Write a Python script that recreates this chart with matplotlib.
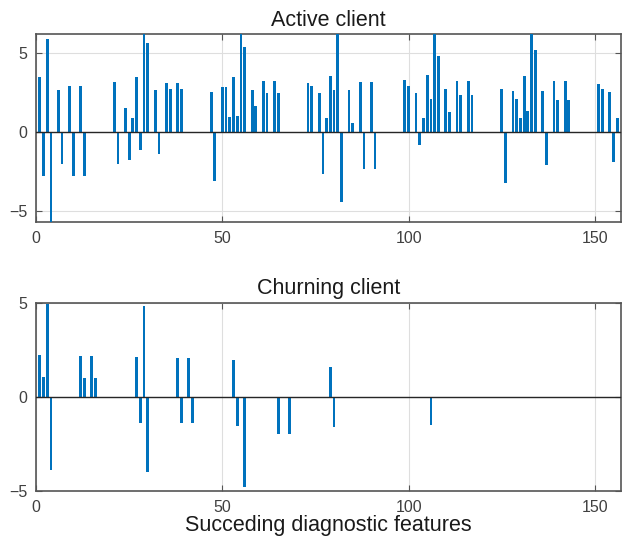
import matplotlib
matplotlib.use("Agg")
import matplotlib.pyplot as plt

plt.rcParams['font.family'] = ['Liberation Sans', 'DejaVu Sans']

# Active client: feature index and value
active_idx = [1, 2, 3, 4, 6, 7, 9, 10, 12, 13,
              21, 22, 24, 25, 26, 27, 28, 29, 30, 32, 33, 35, 36, 38, 39,
              47, 48, 50, 51, 52, 53, 54, 55, 56, 58, 59, 61, 62, 64, 65,
              73, 74, 76, 77, 78, 79, 80, 81, 82, 84, 85, 87, 88, 90, 91,
              99, 100, 102, 103, 104, 105, 106, 107, 108, 110, 111, 113, 114, 116, 117,
              125, 126, 128, 129, 130, 131, 132, 133, 134, 136, 137, 139, 140, 142, 143,
              151, 152, 154, 155, 156]
active_val = [3.48, -2.78, 5.87, -6.0, 2.68, -2.06, 2.93, -2.78, 2.93, -2.78,
              3.16, -2.04, 1.54, -1.79, 0.89, 3.48, -1.16, 6.5, 5.63, 2.64, -1.43, 3.12, 2.70, 3.12, 2.70,
              2.55, -3.12, 2.85, 2.85, 0.91, 3.48, 1.01, 6.5, 5.38, 2.68, 1.63, 3.21, 2.43, 3.21, 2.43,
              3.10, 2.91, 2.47, -2.70, 0.90, 3.54, 2.68, 6.5, -4.43, 2.68, 0.57, 3.16, -2.36, 3.16, -2.36,
              3.31, 2.93, 2.43, -0.84, 0.90, 3.59, 2.05, 6.5, 4.79, 2.70, 1.23, 3.23, 2.36, 3.23, 2.36,
              2.74, -3.23, 2.60, 2.11, 0.90, 3.54, 1.33, 6.5, 5.21, 2.58, -2.11, 3.23, 2.00, 3.23, 2.00,
              3.06, 2.74, 2.51, -1.90, 0.88]

# Churning client
churn_idx = [1, 2, 3, 4, 12, 13, 15, 16, 27, 28, 29, 30, 38, 39, 41, 42,
             53, 54, 56, 65, 68, 79, 80, 106]
churn_val = [2.22, 1.03, 4.93, -3.92, 2.18, 1.00, 2.18, 1.00, 2.13, -1.38, 4.84, -3.99,
             2.06, -1.42, 2.06, -1.42, 1.95, -1.57, -4.79, -2.00, -2.00, 1.58, -1.60, -1.52]

titles = ["Active client", "Churning client"]
xlabel = "Succeding diagnostic features"
xticks = [0, 50, 100, 150]
yticks = [-5, 0, 5]

bar_color = "#0072BD"
fig = plt.figure(figsize=(6.25, 5.4), dpi=100)
ax1 = fig.add_axes([0.0576, 0.5894, 0.936, 0.3476])
ax2 = fig.add_axes([0.0576, 0.0913, 0.936, 0.3481])

panels = [(ax1, active_idx, active_val, (-5.7, 6.2)),
          (ax2, churn_idx, churn_val, (-5, 5))]

for (ax, idx, val, ylim), title in zip(panels, titles):
    ax.bar(idx, val, width=0.75, color=bar_color, edgecolor="none",
           linewidth=0, zorder=3)
    ax.axhline(0, color="#262626", linewidth=1.0, zorder=4)
    ax.set_xlim(0, 157)
    ax.set_ylim(*ylim)
    ax.set_xticks(xticks)
    ax.set_yticks(yticks)
    ax.grid(True, color="#dedede", linewidth=0.8, zorder=0)
    ax.set_axisbelow(True)
    ax.tick_params(direction="in", top=True, right=True, length=4,
                   labelsize=11.5, color="#555555", labelcolor="#404040",
                   width=0.8)
    ax.tick_params(axis="x", pad=7)
    ax.tick_params(axis="y", pad=6)
    for s in ax.spines.values():
        s.set_color("#555555")
        s.set_linewidth(1.2)
    ax.set_title(title, fontsize=15.5, pad=6, color="#1a1a1a")

ax2.set_xlabel(xlabel, fontsize=15.5, labelpad=0, color="#1a1a1a")

fig.savefig("out.png", dpi=100)
